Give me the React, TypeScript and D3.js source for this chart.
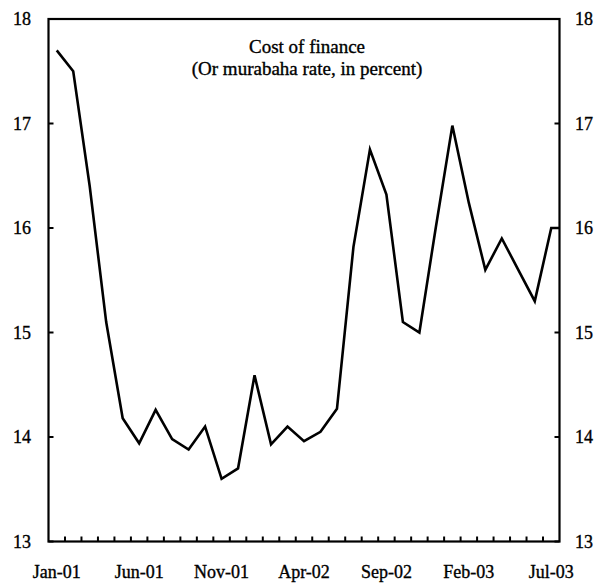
import React, { useEffect, useRef } from "react";
import * as d3 from "d3";

const months = [
  "Jan-01", "Feb-01", "Mar-01", "Apr-01", "May-01", "Jun-01", "Jul-01", "Aug-01", "Sep-01", "Oct-01", "Nov-01", "Dec-01",
  "Jan-02", "Feb-02", "Mar-02", "Apr-02", "May-02", "Jun-02", "Jul-02", "Aug-02", "Sep-02", "Oct-02", "Nov-02", "Dec-02",
  "Jan-03", "Feb-03", "Mar-03", "Apr-03", "May-03", "Jun-03", "Jul-03",
];
const rates = [
  17.7, 17.5, 16.4, 15.1, 14.18, 13.94, 14.26, 13.98, 13.88, 14.1, 13.6, 13.7,
  14.59, 13.93, 14.1, 13.96, 14.05, 14.27, 15.82, 16.75, 16.32, 15.1, 15.0, 16.01,
  16.98, 16.24, 15.6, 15.9, 15.6, 15.3, 16.0,
];
const xTickLabels = ["Jan-01", "Jun-01", "Nov-01", "Apr-02", "Sep-02", "Feb-03", "Jul-03"];
const yTicks = [13, 14, 15, 16, 17, 18];
const titleLines = ["Cost of finance", "(Or murabaha rate, in percent)"];

export default function App() {
  const ref = useRef<SVGSVGElement | null>(null);
  useEffect(() => {
    const left = 48.5, right = 559.5, top = 19, bottom = 541.5;
    const svg = d3.select(ref.current);
    svg.selectAll("*").remove();

    const x = d3.scaleBand<string>().domain(months).range([left, right]).padding(0);
    const cx = (m: string) => (x(m) as number) + x.bandwidth() / 2;
    const y = d3.scaleLinear().domain([13, 18]).range([bottom, top]);

    svg.append("rect").attr("x", left).attr("y", top).attr("width", right - left).attr("height", bottom - top)
      .attr("fill", "none").attr("stroke", "#000").attr("stroke-width", 2.2);

    const g = svg.append("g");
    months.slice(1).forEach((m) => {
      const xx = x(m) as number;
      g.append("line").attr("x1", xx).attr("x2", xx).attr("y1", bottom).attr("y2", bottom - 5)
        .attr("stroke", "#000").attr("stroke-width", 2);
    });
    const txt = (sel: d3.Selection<SVGTextElement, unknown, null, undefined>) =>
      sel.attr("fill", "#000").attr("stroke", "#000").attr("stroke-width", 0.35);
    yTicks.forEach((t) => {
      g.append("line").attr("x1", left).attr("x2", left + 5).attr("y1", y(t)).attr("y2", y(t)).attr("stroke", "#000").attr("stroke-width", 2);
      g.append("line").attr("x1", right).attr("x2", right - 5).attr("y1", y(t)).attr("y2", y(t)).attr("stroke", "#000").attr("stroke-width", 2);
      txt(g.append("text").attr("x", 31).attr("y", y(t)).attr("dy", "0.35em").attr("text-anchor", "end")
        .attr("font-size", 18).text(String(t)) as any);
      txt(g.append("text").attr("x", 575).attr("y", y(t)).attr("dy", "0.35em").attr("text-anchor", "start")
        .attr("font-size", 18).text(String(t)) as any);
    });
    xTickLabels.forEach((lab) => {
      txt(g.append("text").attr("x", cx(lab)).attr("y", 578).attr("text-anchor", "middle")
        .attr("font-size", 18).text(lab) as any);
    });

    const pts: [number, number][] = months.map((m, i) => [cx(m), y(rates[i])]);
    pts.push([right, y(rates[rates.length - 1])]);
    svg.append("path").attr("d", d3.line()(pts) as string).attr("fill", "none").attr("stroke", "#000")
      .attr("stroke-width", 2.6).attr("stroke-linejoin", "miter");

    titleLines.forEach((t, i) => {
      txt(svg.append("text").attr("x", 307).attr("y", 53 + i * 22).attr("text-anchor", "middle")
        .attr("font-size", 19).text(t) as any);
    });
  }, []);
  return (
    <svg ref={ref} width={605} height={588}
      style={{ position: "absolute", left: 0, top: 0, background: "#fff", fontFamily: "Liberation Serif, DejaVu Serif, Times New Roman, serif" }} />
  );
}
